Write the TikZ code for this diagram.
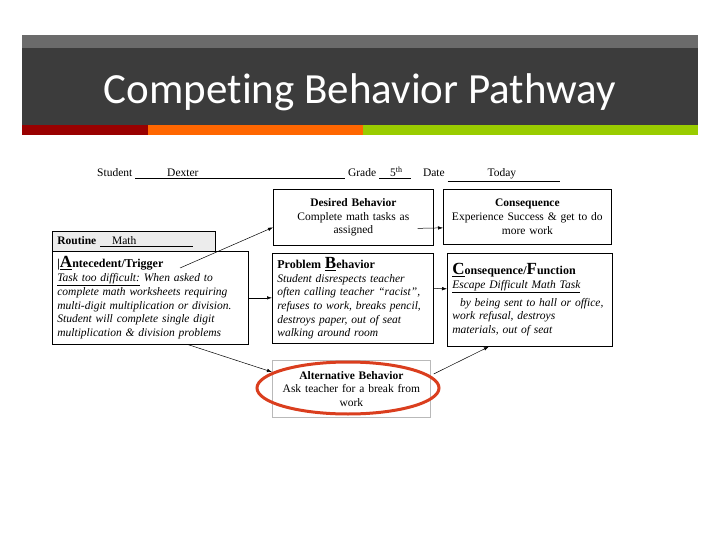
\documentclass[tikz,border=0pt]{standalone}
\usepackage{fontspec}
\setmainfont{Liberation Serif}
\newfontfamily\titlefont[Ligatures=NoCommon]{Carlito}
\usetikzlibrary{calc,arrows.meta}
\definecolor{barhi}{HTML}{6B6B6B}
\definecolor{bardark}{HTML}{3C3C3C}
\definecolor{stripred}{HTML}{990000}
\definecolor{stripor}{HTML}{FF6600}
\definecolor{stripgr}{HTML}{99CC00}
\definecolor{ring}{RGB}{218,62,30}
\newcommand{\bodysize}{\fontsize{11.5}{13.7}\selectfont}
\newcommand{\headsize}{\fontsize{12}{13.7}\selectfont}
\newcommand{\bigul}[1]{\underline{\fontsize{17}{17}\selectfont #1}}

\begin{document}
\begin{tikzpicture}[x=1pt,y=-1pt]
\tikzstyle{panel}=[draw, line width=0.7pt, anchor=north west,
                   inner xsep=5pt, inner ysep=2pt, font=\bodysize]
\tikzstyle{arr}=[-{Latex[length=5pt,width=3.5pt]}, line width=0.5pt]
\useasboundingbox (0,0) rectangle (720,540);
% title bar
\fill[barhi] (22,35) rectangle (698,48);
\fill[bardark] (22,48) rectangle (698,125);
\fill[stripred] (22,125) rectangle (148,135);
\fill[stripor] (148,125) rectangle (363,135);
\fill[stripgr] (363,125) rectangle (698,135);
\node[anchor=base, text=white, inner sep=0pt,
      font=\titlefont\fontsize{43}{43}\selectfont] (title) at (360,104) {Competing Behavior Pathway};
% header line
\node[anchor=base west, inner sep=0pt, font=\bodysize] (student) at (97,177)
  {Student \underline{\makebox[210pt][l]{\hspace{32pt}Dexter}} Grade
   \underline{\makebox[32pt][l]{\hspace{11pt}5\textsuperscript{th}}}\hspace{12pt}Date
   \underline{\makebox[112pt][l]{\hspace{40pt}Today}}};
% boxes
\node[panel, align=center, text width=150pt, minimum height=56pt] (desired) at (273,189)
  {\textbf{Desired Behavior}\\Complete math tasks as\\assigned};
\node[panel, align=center, text width=158pt, minimum height=55pt] (conseq) at (443,189)
  {\textbf{Consequence}\\Experience Success \& get to do\\more work};
\node[panel, fill=gray!15, align=left, text width=153pt, minimum height=20pt] (routine) at (52,231)
  {\textbf{Routine} \underline{\makebox[93pt][l]{\hspace{12pt}Math}}};
\node[panel, align=left, text width=186pt, minimum height=93pt] (ante) at (52,251)
  {{\bfseries\headsize |\bigul{A}ntecedent/Trigger}\\
   \itshape\underline{Task too difficult:} When asked to\\
   complete math worksheets requiring\\
   multi-digit multiplication or division.\\
   Student will complete single digit\\
   multiplication \& division problems};
\node[panel, align=left, text width=151pt, minimum height=90pt] (problem) at (272,253)
  {{\bfseries\headsize Problem \bigul{B}ehavior}\\
   \itshape Student disrespects teacher\\
   often calling teacher ``racist'',\\
   refuses to work, breaks pencil,\\
   destroys paper, out of seat\\
   walking around room};
\node[panel, align=left, text width=155pt, minimum height=93pt] (func) at (447,253)
  {{\bfseries\headsize \bigul{C}onsequence/{\fontsize{17}{17}\selectfont F}unction}\\
   \itshape\underline{Escape Difficult Math Task}\\[4pt]
   \ \ by being sent to hall or office,\\
   work refusal, destroys\\
   materials, out of seat};
\node[panel, draw=gray!55, align=center, text width=148pt, minimum height=57pt] (altern) at (272,360)
  {\textbf{Alternative Behavior}\\Ask teacher for a break from\\work};
% highlight
\draw[ring, line width=3pt] (348,388) ellipse [x radius=91pt, y radius=26pt];
% arrows
\coordinate (trig) at (180,268);
\draw[arr] (trig) -- ($(desired.west)+(0,10)$);
\draw[arr] (ante.east) -- (ante.east -| problem.west);
\draw[arr] ($(desired.east)+(-16,11)$) -- ($(conseq.west)+(0,11)$);
\draw[arr] ($(problem.east)+(0,-10)$) -- ($(func.west)+(0,-11)$);
\draw[arr] ($(ante.south)+(38,0)$) -- ($(altern.north west)+(0,12)$);
\draw[arr] ($(altern.north east)+(3,14)$) -- ($(func.south)+(-41,0)$);
\end{tikzpicture}
\end{document}
